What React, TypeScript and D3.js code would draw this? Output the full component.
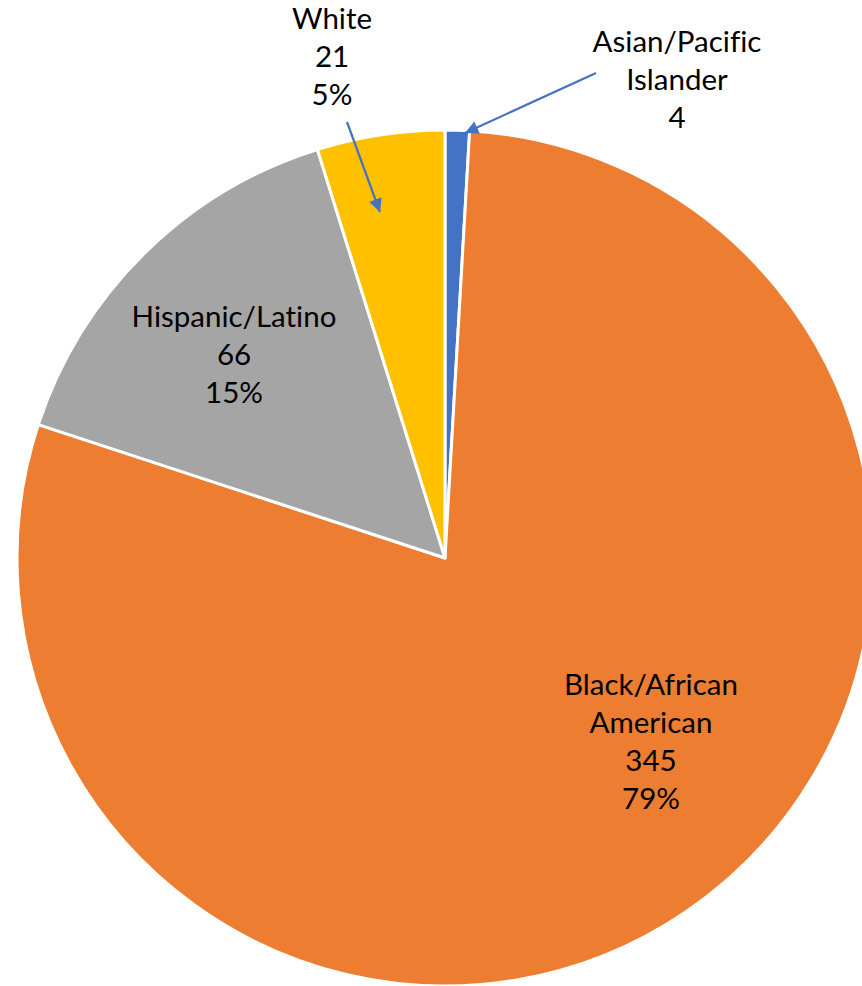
import React from "react";
import * as d3 from "d3";

const categories = ["Asian/Pacific Islander", "Black/African American", "Hispanic/Latino", "White"];
const values = [4, 345, 66, 21];
const colors = ["#4472C4", "#ED7D31", "#A5A5A5", "#FFC000"];
const labelLines = [
  ["Asian/Pacific", "Islander", "4"],
  ["Black/African", "American", "345", "79%"],
  ["Hispanic/Latino", "66", "15%"],
  ["White", "21", "5%"],
];
// label anchor: [x center, first baseline]
const labelPos = [
  [677, 52],
  [651, 695],
  [234, 327],
  [332, 29],
];
// leader lines: [x1,y1,x2,y2] (null = none)
const leaders: (number[] | null)[] = [
  [596, 73, 465, 133],
  null,
  null,
  [347, 122, 380, 212],
];

const W = 862;
const H = 986;
const cx = 445;
const cy = 558;
const R = 428;
const FONT = 29.5;
const LINE = 38;

export default function App() {
  const pie = d3.pie<number>().sort(null).value((d) => d)(values);
  const arc = d3.arc<d3.PieArcDatum<number>>().innerRadius(0).outerRadius(R);
  return (
    <svg
      width={W}
      height={H}
      style={{ position: "absolute", left: 0, top: 0, overflow: "hidden", background: "#fff" }}
    >
      <defs>
        <marker id="arr" viewBox="0 0 10 10" refX="10" refY="5" markerWidth="6.5" markerHeight="6" orient="auto" markerUnits="strokeWidth">
          <path d="M0,0 L10,5 L0,10 z" fill="#4472C4" />
        </marker>
      </defs>
      <g transform={`translate(${cx},${cy})`}>
        {pie.map((p, i) => (
          <path key={categories[i]} d={arc(p) || ""} fill={colors[i]} stroke="#fff" strokeWidth={3} strokeLinejoin="round" />
        ))}
      </g>
      {leaders.map((l, i) =>
        l ? (
          <line key={i} x1={l[0]} y1={l[1]} x2={l[2]} y2={l[3]} stroke="#4472C4" strokeWidth={2.2} markerEnd="url(#arr)" />
        ) : null
      )}
      {labelLines.map((lines, i) => (
        <text
          key={i}
          textAnchor="middle"
          fontFamily="Lato, 'Noto Sans', sans-serif"
          fontSize={FONT}
          fill="#000"
          style={{ fontVariantLigatures: "none" }}
        >
          {lines.map((t, j) => (
            <tspan key={j} x={labelPos[i][0]} y={labelPos[i][1] + j * LINE}>
              {t}
            </tspan>
          ))}
        </text>
      ))}
    </svg>
  );
}
